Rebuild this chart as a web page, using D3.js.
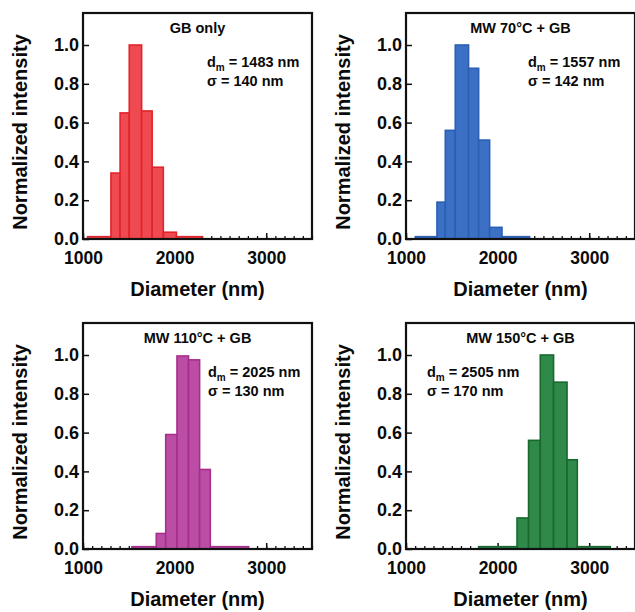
<!DOCTYPE html>
<html>
<head>
<meta charset="utf-8">
<script src="https://cdn.jsdelivr.net/npm/d3@7"></script>
<style>
  body { margin: 0; background: #fff; }
  svg text { font-family: "Liberation Sans", Arial, sans-serif; font-weight: bold; fill: #0a0a0a; }
</style>
</head>
<body>
<svg id="chart" width="635" height="612"></svg>
<script>

// panel texts
const panelTitles = ['GB only', 'MW 70°C + GB', 'MW 110°C + GB', 'MW 150°C + GB']
const meanDiam = [1483, 1557, 2025, 2505]
const sigmaVals = [140, 142, 130, 170]

// histogram bins (nm) and normalized heights
const edgesGB = [1050, 1305, 1405, 1505, 1640, 1755, 1877, 2020, 2300]
const heightsGB = [0.012, 0.34, 0.65, 1.0, 0.66, 0.37, 0.035, 0.012]
const edges70 = [1102, 1338, 1429, 1538, 1683, 1793, 1913, 2048, 2349]
const heights70 = [0.012, 0.19, 0.56, 1.0, 0.88, 0.51, 0.06, 0.012]
const edges110 = [1535, 1800, 1903, 2026, 2152, 2273, 2390, 2808]
const heights110 = [0.012, 0.08, 0.59, 0.995, 0.975, 0.41, 0.012]
const edges150 = [1793, 2212, 2338, 2466, 2611, 2758, 2870, 3230]
const heights150 = [0.012, 0.16, 0.56, 1.0, 0.86, 0.46, 0.012]

const xTicks = [1000, 2000, 3000]
const yTicks = [0, 0.2, 0.4, 0.6, 0.8, 1.0]

const edges = [edgesGB, edges70, edges110, edges150]
const heights = [heightsGB, heights70, heights110, heights150]

const fills = ['#ef4a51', '#3b70c4', '#bb4ea4', '#2f8a4a']
const strokes = ['#e2232b', '#2a5fb3', '#a62f8d', '#18682f']

const panelW = 229
const panelH = 226
const lefts = [83, 406, 83, 406]
const tops = [13, 13, 323, 323]
const noteDx = [124, 122, 125, 21] // where the d_m / sigma text starts

const svg = d3.select('#chart')

function toBins(e, h) {
  return h.map((v, i) => ({ x0: e[i], x1: e[i + 1], y: v }))
}

function drawPanel(k) {
  const g = svg.append('g').attr('transform', `translate(${lefts[k]},${tops[k]})`)

  const x = d3.scaleLinear().domain([1000, 3500]).range([0, panelW])
  const y = d3.scaleLinear().domain([0, 1.165]).range([panelH, 0])

  // minor x ticks every 100 nm, pointing in
  const minor = d3.range(1000, 3501, 100)
  g.append('g')
    .attr('transform', `translate(0,${panelH})`)
    .call(d3.axisBottom(x).tickValues(minor).tickSize(-3).tickFormat(''))
    .call(a => a.select('.domain').remove())
    .call(a => a.selectAll('line').attr('stroke', '#111').attr('stroke-width', 1.3))

  const xa = g.append('g')
    .attr('transform', `translate(0,${panelH})`)
    .call(d3.axisBottom(x).tickValues(xTicks).tickSize(-6).tickPadding(0).tickFormat(d3.format('d')))
  xa.select('.domain').remove()
  xa.selectAll('line').attr('stroke', '#111').attr('stroke-width', 1.5)
  xa.selectAll('text').attr('font-size', 17.5).attr('y', 25).attr('dy', 0)

  const ya = g.append('g')
    .call(d3.axisLeft(y).tickValues(yTicks).tickSize(-6).tickPadding(6).tickFormat(d3.format('.1f')))
  ya.select('.domain').remove()
  ya.selectAll('line').attr('stroke', '#111').attr('stroke-width', 1.5)
  ya.selectAll('text').attr('font-size', 18).attr('x', -4)

  // bars
  g.selectAll('rect.bar')
    .data(toBins(edges[k], heights[k]))
    .enter().append('rect')
    .attr('class', 'bar')
    .attr('x', d => x(d.x0))
    .attr('width', d => x(d.x1) - x(d.x0))
    .attr('y', d => y(d.y))
    .attr('height', d => y(0) - y(d.y))
    .attr('fill', fills[k])
    .attr('stroke', strokes[k])
    .attr('stroke-width', 1.6)

  // frame
  g.append('rect')
    .attr('width', panelW).attr('height', panelH)
    .attr('fill', 'none').attr('stroke', '#111').attr('stroke-width', 2.2)

  g.append('text')
    .attr('x', panelW / 2).attr('y', 20)
    .attr('text-anchor', 'middle').attr('font-size', 14.5)
    .text(panelTitles[k])

  const note = g.append('text')
    .attr('x', noteDx[k]).attr('y', 54).attr('font-size', 14.5)
  note.append('tspan').text('d')
  note.append('tspan').attr('font-size', 10).attr('dy', 4).text('m')
  note.append('tspan').attr('dy', -4).text(` = ${meanDiam[k]} nm`)

  g.append('text')
    .attr('x', noteDx[k]).attr('y', 73).attr('font-size', 14.5)
    .text(`σ = ${sigmaVals[k]} nm`)

  g.append('text')
    .attr('x', panelW / 2).attr('y', panelH + 57)
    .attr('text-anchor', 'middle').attr('font-size', 20)
    .text('Diameter (nm)')

  g.append('text')
    .attr('transform', `translate(-56,${panelH / 2 + 6}) rotate(-90)`)
    .attr('text-anchor', 'middle').attr('font-size', 20)
    .text('Normalized intensity')
}

for (let k = 0; k < 4; k++) drawPanel(k)

</script>
</body>
</html>
